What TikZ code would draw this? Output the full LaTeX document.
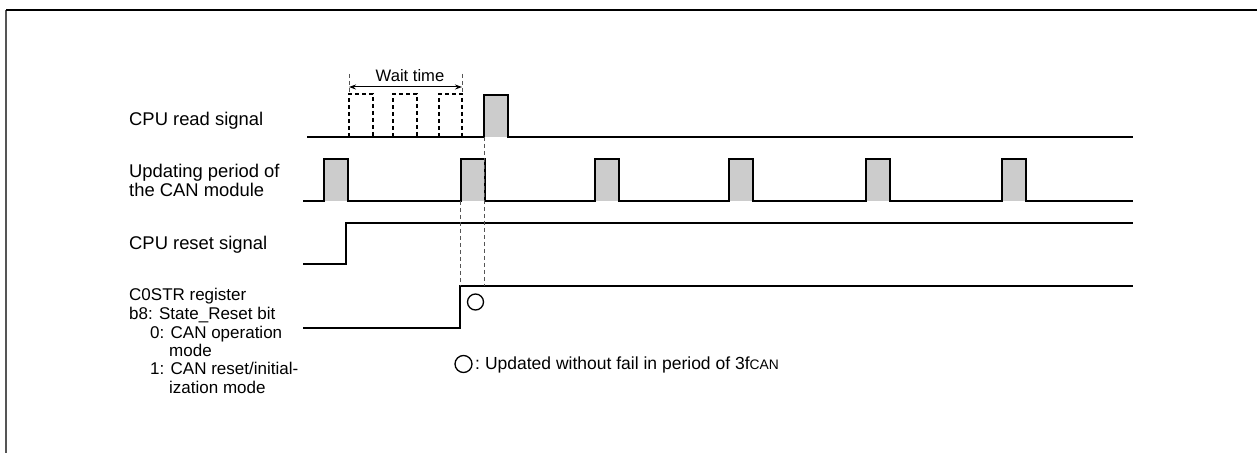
\documentclass[tikz,border=0pt]{standalone}
\usepackage{fontspec}
\setmainfont{Liberation Sans}
\usetikzlibrary{arrows.meta}
\definecolor{pulsegray}{RGB}{204,204,204}
\definecolor{guidegray}{RGB}{85,85,85}
\begin{document}
\begin{tikzpicture}[x=1bp,y=-1bp,
  sig/.style={line width=1.6bp, black, line join=miter},
  guide/.style={line width=0.9bp, dash pattern=on 4bp off 3bp, guidegray},
  waitpulse/.style={line width=1.3bp, dash pattern=on 4bp off 3bp, black},
  lbl/.style={anchor=base west, inner sep=0pt, font=\fontsize{18.4bp}{19bp}\selectfont},
  reg/.style={anchor=base west, inner sep=0pt, font=\fontsize{17bp}{19bp}\selectfont},
  ringmark/.style={circle, draw, inner sep=0pt, line width=1.3bp},
]
\useasboundingbox (0,0) rectangle (1257,453);
% frame
\draw[line width=1.4bp, guidegray] (6,453) -- (6,10);
\draw[line width=1.4bp, black] (6,10) -- (1257,10);

% labels
\node[lbl] (lread) at (129,126) {CPU read signal};
\node[lbl] (lupd1) at (129,178) {Updating period of};
\node[lbl] (lupd2) at (129,197) {the CAN module};
\node[lbl] (lreset) at (129,250) {CPU reset signal};
\node[reg] (lreg1) at (129,300.7) {C0STR register};
\node[reg] (lreg2) at (129,320) {b8: State\_Reset bit};
\node[reg] (lreg3) at (150,339) {0: CAN operation};
\node[reg] (lreg4) at (169,357) {mode};
\node[reg] (lreg5) at (150,375) {1: CAN reset/initial-};
\node[reg] (lreg6) at (169,394) {ization mode};

% CPU read signal
\fill[pulsegray] (484,95) rectangle (508,137);
\draw[sig] (307,137) -- (484,137) -- (484,95) -- (508,95) -- (508,137) -- (1133,137);
\foreach \a/\b in {349/373, 393/417, 439/462}
  \draw[waitpulse] (\a,137) -- (\a,94) -- (\b,94) -- (\b,137);
\draw[guide] (349,74) -- (349,94);
\draw[guide] (462,74) -- (462,94);
\coordinate (wl) at (349,87);
\coordinate (wr) at (462,87);
\draw[{Stealth[length=7bp,width=5bp]}-{Stealth[length=7bp,width=5bp]}, line width=1bp] (wl) -- (wr);
\node[anchor=base, inner sep=0pt, font=\fontsize{16.6bp}{18bp}\selectfont] (wait) at (410,82) {Wait time};

% Updating period
\foreach \s in {324, 461, 595, 729, 866, 1002}
  \fill[pulsegray] (\s,159) rectangle (\s+24,201);
\draw[sig] (303,201)
  \foreach \s in {324, 461, 595, 729, 866, 1002} { -- (\s,201) -- (\s,159) -- (\s+24,159) -- (\s+24,201) }
  -- (1133,201);

% CPU reset signal
\draw[sig] (303,264) -- (346,264) -- (346,223) -- (1133,223);

% C0STR register
\draw[sig] (303,328) -- (460,328) -- (460,286) -- (1133,286);

% guides
\draw[guide] (460,201) -- (460,286);
\draw[guide] (484,137) -- (484,286);

% update mark
\node[ringmark, minimum size=16bp] (upd) at (475.5,302) {};

% legend
\node[ringmark, minimum size=17bp] (legmark) at (463.5,364) {};
\node[anchor=base west, inner sep=0pt, font=\fontsize{17.5bp}{19bp}\selectfont] (legend) at (475,370)
  {:\hspace{5bp}Updated without fail in period of 3f{\fontsize{13.8bp}{15bp}\selectfont CAN}};
\end{tikzpicture}
\end{document}
